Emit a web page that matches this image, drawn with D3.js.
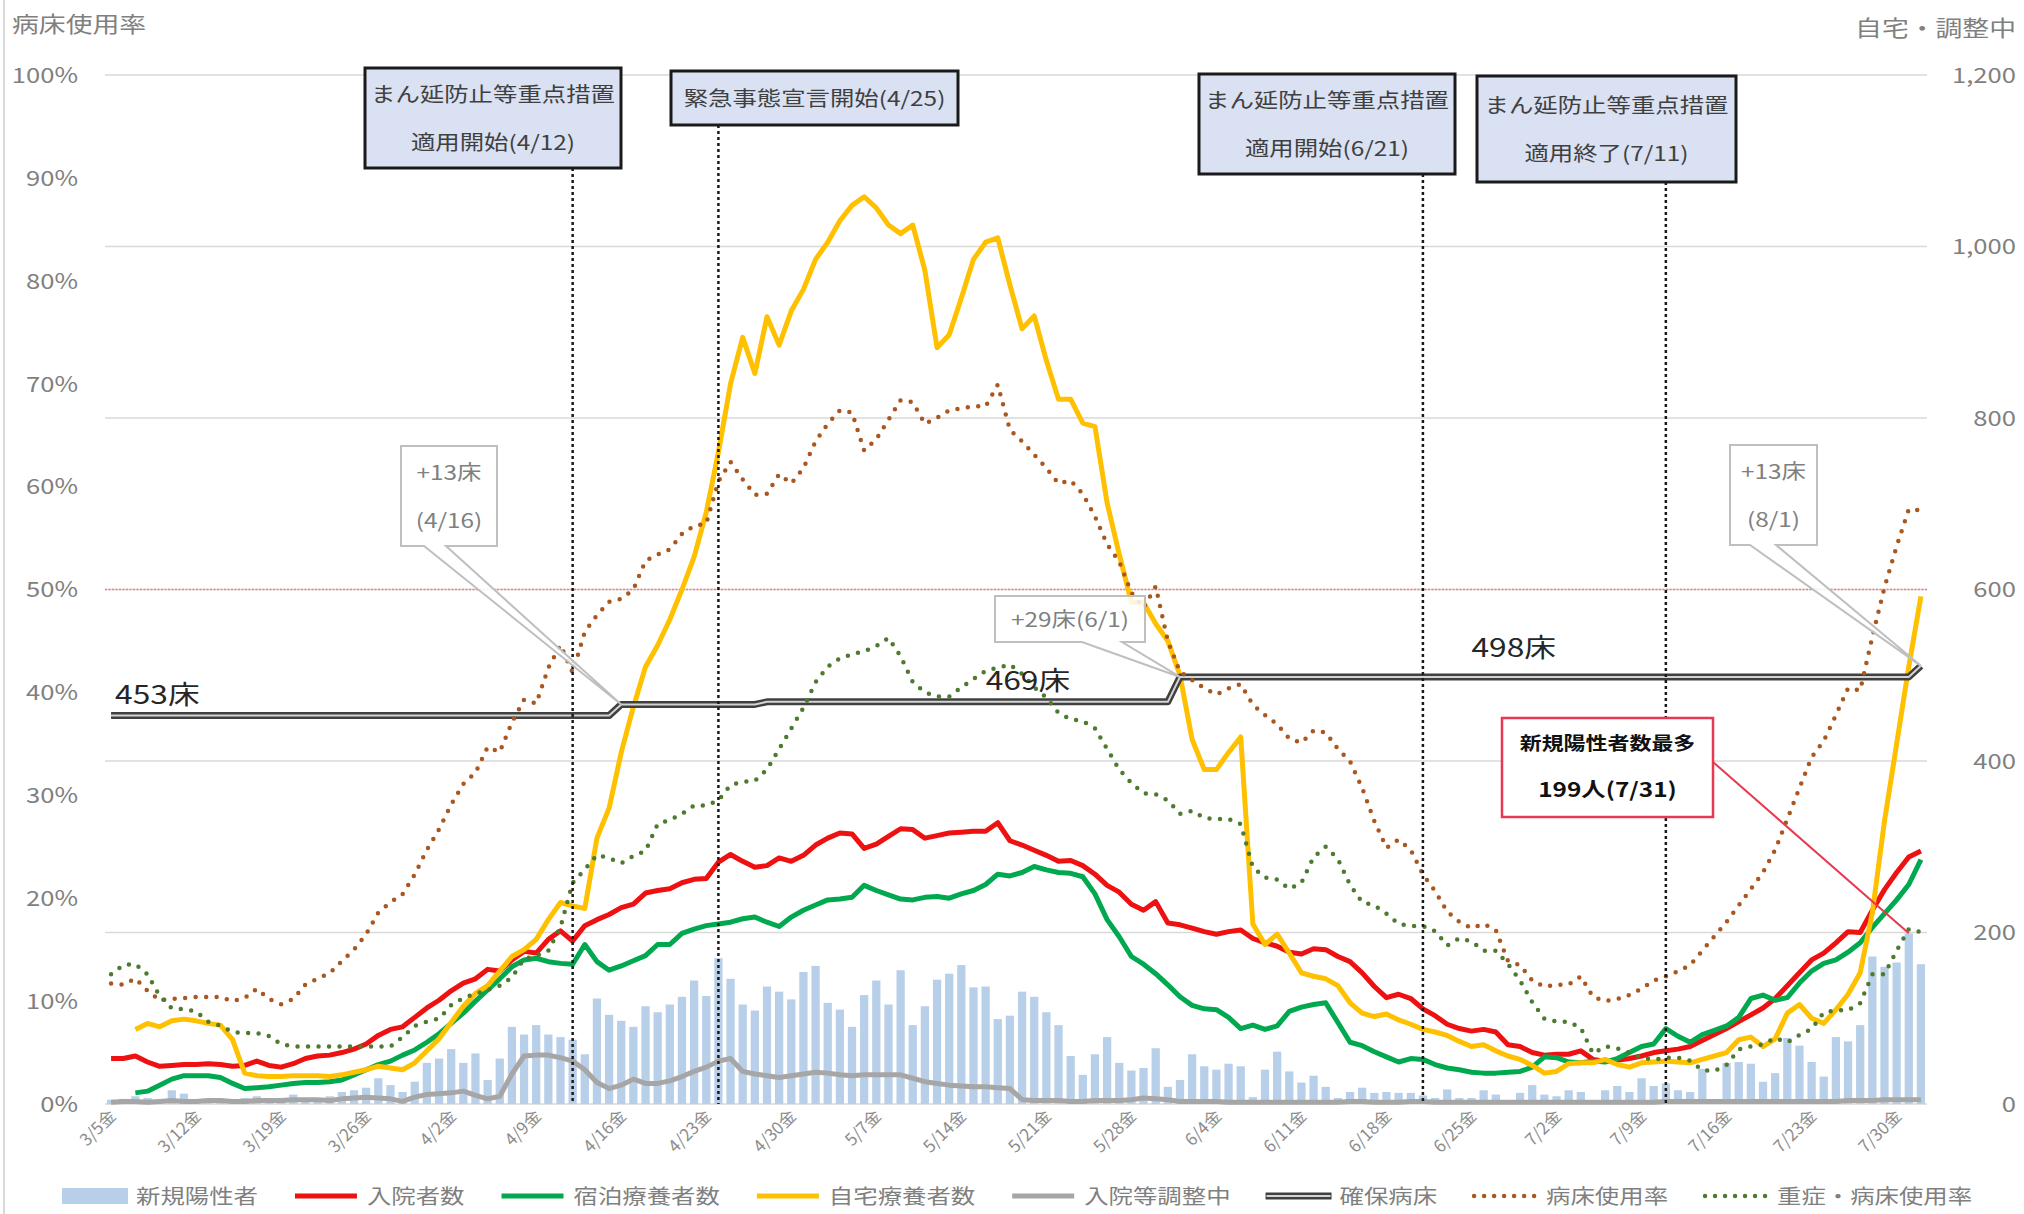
<!DOCTYPE html>
<html>
<head>
<meta charset="utf-8">
<script src="https://cdn.jsdelivr.net/npm/d3@7"></script>
<style>
  body { margin: 0; background: #fff; }
  text { font-family: "Noto Sans CJK JP", "Noto Sans", sans-serif; }
</style>
</head>
<body>
<svg id="chart" width="2024" height="1214"></svg>
<script>
// days 3/5 .. 8/1 (category axis)
var days = d3.timeDay.range(new Date(2021, 2, 5), new Date(2021, 7, 2))
  .map(function (d) { return (d.getMonth() + 1) + '/' + d.getDate(); });

var tickLabels = ['3/5金', '3/12金', '3/19金', '3/26金', '4/2金', '4/9金', '4/16金', '4/23金', '4/30金',
  '5/7金', '5/14金', '5/21金', '5/28金', '6/4金', '6/11金', '6/18金', '6/25金', '7/2金', '7/9金',
  '7/16金', '7/23金', '7/30金'];

var seriesNames = ['新規陽性者', '入院者数', '宿泊療養者数', '自宅療養者数', '入院等調整中', '確保病床', '病床使用率', '重症・病床使用率'];

// 新規陽性者
var newCases = [
  5, 6, 9, 7, 4, 16, 12, 5, 4, 3,
  5, 7, 9, 7, 5, 11, 7, 7, 9, 14,
  16, 19, 30, 22, 14, 26, 48, 53, 64, 48,
  59, 28, 53, 90, 81, 92, 81, 78, 75, 58,
  123, 104, 97, 90, 114, 107, 116, 125, 144, 126,
  170, 146, 116, 109, 137, 131, 122, 154, 161, 118,
  110, 90, 127, 144, 116, 156, 92, 114, 145, 152,
  162, 136, 137, 99, 103, 131, 125, 107, 92, 56,
  34, 58, 78, 48, 39, 42, 65, 20, 28, 58,
  44, 40, 47, 44, 8, 40, 61, 38, 25, 33,
  20, 7, 14, 19, 13, 14, 13, 13, 10, 7,
  17, 7, 7, 16, 11, 4, 13, 22, 11, 9,
  16, 14, 3, 16, 21, 14, 30, 21, 24, 16,
  14, 41, 2, 48, 49, 47, 26, 36, 77, 68,
  49, 32, 78, 73, 92, 172, 160, 165, 199, 163
];

// 入院者数
var hospitalized = [
  53, 53, 56, 49, 44, 45, 46, 46, 47, 46,
  44, 45, 50, 45, 43, 47, 53, 56, 57, 60,
  64, 70, 80, 87, 90, 101, 112, 121, 132, 141,
  146, 157, 155, 168, 178, 176, 192, 202, 190, 208,
  215, 221, 229, 233, 246, 249, 251, 258, 262, 263,
  282, 291, 283, 276, 278, 287, 283, 290, 302, 310,
  316, 315, 298, 303, 312, 321, 320, 310, 313, 316,
  317, 318, 318, 328, 307, 302, 296, 290, 283, 284,
  278, 268, 255, 247, 233, 226, 236, 211, 209, 205,
  201, 198, 201, 203, 193, 188, 184, 177, 175, 181,
  180, 172, 166, 153, 137, 124, 128, 123, 111, 103,
  93, 88, 85, 87, 84, 69, 67, 60, 57, 58,
  58, 62, 52, 50, 51, 53, 56, 60, 62, 64,
  67, 74, 81, 88, 96, 104, 112, 123, 138, 153,
  168, 176, 188, 201, 200, 226, 250, 270, 288, 295
];

// 宿泊療養者数
var hotel = [
  null, null, 13, 15, 22, 29, 33, 33, 33, 31,
  24, 18, 19, 20, 22, 24, 25, 25, 26, 28,
  34, 40, 46, 50, 57, 63, 72, 82, 94, 106,
  120, 133, 146, 160, 168, 170, 166, 164, 163, 186,
  166, 156, 161, 167, 173, 186, 186, 199, 204, 208,
  210, 212, 216, 218, 212, 207, 218, 226, 232, 238,
  239, 241, 255, 249, 244, 239, 238, 241, 242, 240,
  245, 249, 256, 268, 266, 270, 277, 273, 270, 269,
  265, 245, 215, 195, 172, 163, 152, 139, 125, 115,
  111, 110, 101, 88, 92, 87, 91, 108, 113, 116,
  118, 95, 72, 68, 61, 55, 49, 53, 52, 46,
  42, 40, 37, 36, 36, 37, 38, 43, 55, 54,
  49, 48, 50, 49, 53, 60, 67, 70, 88, 79,
  72, 81, 86, 91, 101, 123, 127, 121, 124, 141,
  155, 164, 168, 177, 188, 206, 222, 238, 256, 285
];

// 自宅療養者数
var home = [
  null, null, 87, 94, 90, 97, 99, 97, 94, 92,
  75, 36, 33, 32, 32, 33, 33, 33, 32, 34,
  37, 40, 44, 42, 40, 48, 62, 76, 95, 114,
  129, 138, 155, 172, 180, 192, 215, 235, 231, 228,
  310, 345, 410, 463, 510, 535, 565, 600, 638, 690,
  760, 840, 894, 852, 918, 885, 925, 950, 985, 1005,
  1030, 1048, 1058, 1045, 1025, 1015, 1025, 972, 882, 897,
  940, 985, 1005, 1010, 955, 904, 919, 867, 822, 822,
  794, 790, 701, 641, 585, 585, 560, 540, 500, 425,
  390, 390, 410, 428, 210, 186, 198, 176, 153, 149,
  146, 138, 118, 106, 102, 105, 98, 93, 87, 84,
  80, 73, 67, 69, 62, 56, 52, 45, 36, 38,
  47, 48, 48, 52, 46, 43, 48, 49, 50, 49,
  48, 52, 56, 60, 75, 78, 67, 76, 106, 116,
  100, 94, 110, 128, 153, 223, 330, 420, 510, 592
];

// 入院等調整中
var adjusting = [
  2, 3, 3, 2, 3, 4, 3, 3, 4, 4,
  3, 3, 4, 4, 4, 5, 5, 5, 4, 6,
  7, 8, 7, 6, 3, 8, 11, 12, 13, 15,
  10, 6, 9, 35, 56, 57, 57, 54, 50, 40,
  25, 18, 22, 29, 24, 24, 27, 32, 38, 43,
  50, 53, 38, 35, 33, 31, 33, 35, 37, 36,
  34, 33, 34, 34, 34, 34, 30, 26, 24, 22,
  21, 20, 20, 19, 18, 5, 4, 4, 4, 3,
  3, 4, 4, 4, 5, 7, 6, 5, 3, 3,
  3, 3, 2, 2, 2, 2, 2, 2, 2, 2,
  2, 2, 3, 3, 2, 2, 2, 3, 3, 2,
  2, 2, 2, 2, 2, 2, 2, 2, 2, 2,
  2, 2, 2, 2, 2, 2, 2, 2, 3, 3,
  3, 3, 3, 3, 3, 3, 3, 3, 3, 3,
  3, 3, 3, 4, 4, 4, 5, 5, 5, 5
];

// 確保病床 (changes)
var bedSteps = [['3/5', 453], ['4/16', 466], ['4/28', 469], ['6/1', 498], ['8/1', 511]];

// 病床使用率 (%)
var bedRate = [
  11.7, 11.6, 12.2, 11.0, 10.1, 10.2, 10.3, 10.4, 10.4, 10.4,
  10.0, 10.3, 11.2, 10.2, 9.7, 10.2, 11.6, 12.2, 12.7, 13.9,
  15.0, 16.5, 18.6, 19.6, 20.4, 22.3, 24.7, 26.7, 29.1, 31.1,
  32.2, 34.7, 34.2, 37.1, 39.3, 38.9, 42.4, 44.6, 41.9, 45.9,
  47.5, 48.8, 49.1, 50.0, 52.8, 53.4, 53.9, 55.4, 56.2, 56.4,
  60.5, 62.4, 60.7, 59.2, 59.3, 61.2, 60.3, 61.8, 64.4, 66.1,
  67.4, 67.2, 63.5, 64.6, 66.5, 68.4, 68.2, 66.1, 66.7, 67.4,
  67.6, 67.8, 67.8, 69.9, 65.5, 64.4, 63.1, 61.8, 60.3, 60.6,
  59.3, 57.1, 54.4, 52.7, 49.7, 48.2, 50.3, 45.0, 42.0, 41.2,
  40.4, 39.8, 40.4, 40.8, 38.8, 37.8, 36.9, 35.5, 35.1, 36.3,
  36.1, 34.5, 33.3, 30.7, 27.5, 24.9, 25.7, 24.7, 22.3, 20.7,
  18.7, 17.7, 17.1, 17.5, 16.9, 13.9, 13.5, 12.0, 11.4, 11.6,
  11.6, 12.4, 10.4, 10.0, 10.2, 10.6, 11.2, 12.0, 12.4, 12.9,
  13.5, 14.9, 16.3, 17.7, 19.3, 20.9, 22.5, 24.7, 27.7, 30.7,
  33.7, 35.3, 37.8, 40.4, 40.2, 45.4, 50.2, 54.2, 57.8, 57.7
];

// 重症・病床使用率 (%)
var severeRate = [
  12.6, 13.5, 13.6, 12.6, 10.5, 9.3, 9.2, 9.0, 8.0, 7.6,
  7.0, 6.9, 6.9, 6.6, 5.8, 5.6, 5.6, 5.6, 5.6, 5.6,
  5.6, 5.6, 5.6, 5.6, 6.5, 7.6, 8.0, 8.3, 9.6, 10.3,
  10.7, 11.1, 11.5, 12.3, 14.1, 14.4, 14.9, 17.2, 21.5, 22.8,
  24.2, 23.9, 23.4, 24.1, 24.6, 27.2, 27.6, 28.2, 29.0, 29.0,
  29.5, 31.0, 31.3, 31.4, 32.5, 34.5, 36.5, 38.5, 41.0, 42.5,
  43.3, 43.7, 44.0, 44.5, 45.3, 43.5, 41.0, 40.0, 39.6, 39.6,
  40.5, 41.3, 42.1, 42.4, 42.7, 41.8, 40.5, 39.5, 38.0, 37.4,
  37.2, 36.5, 34.5, 32.5, 31.2, 30.2, 30.1, 29.5, 28.2, 28.5,
  27.8, 27.7, 27.7, 27.2, 23.0, 22.0, 21.8, 20.9, 21.5, 24.0,
  25.0, 23.8, 21.3, 19.6, 19.3, 18.5, 17.5, 17.3, 17.3, 16.8,
  15.4, 16.1, 15.8, 14.9, 14.9, 13.6, 12.0, 9.9, 8.3, 8.0,
  8.0, 7.4, 4.9, 5.6, 5.4, 5.0, 4.5, 4.3, 4.5, 4.5,
  4.2, 3.3, 3.2, 3.8, 5.3, 5.6, 5.8, 6.4, 6.0, 6.7,
  7.3, 8.9, 9.1, 9.1, 9.8, 12.6, 12.6, 14.9, 17.0, 16.7
];

var events = [
  { lines: ['まん延防止等重点措置', '適用開始(4/12)'], at: '4/12', box: [365, 68, 256, 100] },
  { lines: ['緊急事態宣言開始(4/25)'], at: '4/24', box: [671, 71, 287, 54] },
  { lines: ['まん延防止等重点措置', '適用開始(6/21)'], at: '6/21', box: [1199, 74, 256, 100] },
  { lines: ['まん延防止等重点措置', '適用終了(7/11)'], at: '7/11', box: [1477, 76, 259, 106] }
];

var bedNotes = [
  { lines: ['+13床', '(4/16)'], at: '4/16', box: [401, 446, 96, 100], wedge: [424, 446] },
  { lines: ['+29床(6/1)'], at: '6/1', box: [995, 596, 150, 46], wedge: [1082, 1122] },
  { lines: ['+13床', '(8/1)'], at: '8/1', box: [1730, 445, 87, 100], wedge: [1750, 1776] }
];

var bedLabels = [['453床', '3/5'], ['469床', '5/16'], ['498床', '6/25']];

function drawChart() {
  var SX = 1.22;  // text in the picture is drawn wide
  var svg = d3.select('#chart');
  var plotL = 105, plotR = 1927, plotT = 75, plotB = 1104;

  var x = d3.scaleBand().domain(days).range([plotL, plotR]).paddingInner(0.32).paddingOuter(0.16);
  var cx = function (d) { return x(d) + x.bandwidth() / 2; };
  var yR = d3.scaleLinear().domain([0, 1200]).range([plotB, plotT]);
  var yL = d3.scaleLinear().domain([0, 100]).range([plotB, plotT]);

  // expand bed steps to one value a day
  var beds = [];
  var si = 0;
  days.forEach(function (d, i) {
    if (si + 1 < bedSteps.length && days.indexOf(bedSteps[si + 1][0]) === i) si++;
    beds.push(bedSteps[si][1]);
  });

  function wideText(g, str, tx, ty, size, fill, anchor, weight) {
    return g.append('text')
      .attr('transform', 'translate(' + tx + ',' + ty + ') scale(' + SX + ',1)')
      .attr('text-anchor', anchor || 'start')
      .attr('font-size', size)
      .attr('font-weight', weight || 400)
      .attr('fill', fill)
      .text(str);
  }

  // frame edge
  svg.append('line').attr('x1', 4).attr('x2', 4).attr('y1', 0).attr('y2', 1214)
    .attr('stroke', '#d9d9d9').attr('stroke-width', 2);

  // gridlines
  svg.append('g').selectAll('line')
    .data(d3.range(200, 1201, 200))
    .enter().append('line')
    .attr('x1', plotL).attr('x2', plotR)
    .attr('y1', function (d) { return yR(d); }).attr('y2', function (d) { return yR(d); })
    .attr('stroke', '#d9d9d9').attr('stroke-width', 1.5);

  svg.append('line').attr('x1', plotL).attr('x2', plotR).attr('y1', plotB).attr('y2', plotB)
    .attr('stroke', '#d9d9d9').attr('stroke-width', 1.5);

  // left axis
  var gl = svg.append('g').attr('transform', 'translate(78,0)')
    .call(d3.axisLeft(yL).tickValues(d3.range(0, 101, 10)).tickSize(0).tickFormat(function (d) { return d + '%'; }));
  gl.select('.domain').remove();
  gl.selectAll('text').attr('x', null).attr('dy', '0.35em')
    .attr('transform', 'scale(' + SX + ',1)')
    .attr('font-size', 21).attr('fill', '#808080').attr('font-family', null);

  // right axis
  var gr = svg.append('g').attr('transform', 'translate(2016,0)')
    .call(d3.axisLeft(yR).tickValues(d3.range(0, 1201, 200)).tickSize(0).tickFormat(d3.format(',')));
  gr.select('.domain').remove();
  gr.selectAll('text').attr('x', null).attr('dy', '0.35em')
    .attr('transform', 'scale(' + SX + ',1)')
    .attr('font-size', 21).attr('fill', '#808080').attr('font-family', null);

  wideText(svg, '病床使用率', 12, 32, 22, '#808080');
  wideText(svg, '自宅・調整中', 2016, 36, 22, '#808080', 'end');

  // x tick labels
  tickLabels.forEach(function (t) {
    var key = t.replace('金', '');
    svg.append('text')
      .attr('transform', 'translate(' + (cx(key) + 6) + ',1117) rotate(-45)')
      .attr('text-anchor', 'end')
      .attr('font-size', 17)
      .attr('fill', '#8c8c8c')
      .text(t);
  });

  // bars
  svg.append('g').selectAll('rect')
    .data(newCases)
    .enter().append('rect')
    .attr('x', function (d, i) { return x(days[i]); })
    .attr('width', x.bandwidth())
    .attr('y', function (d) { return yR(d); })
    .attr('height', function (d) { return plotB - yR(d); })
    .attr('fill', '#b8cfe9');

  // 50% line
  svg.append('line').attr('x1', plotL).attr('x2', plotR).attr('y1', yL(50)).attr('y2', yL(50))
    .attr('stroke', '#f08080').attr('stroke-width', 1.6).attr('stroke-dasharray', '2 1.5');

  var countLine = d3.line()
    .defined(function (d) { return d !== null; })
    .x(function (d, i) { return cx(days[i]); })
    .y(function (d) { return yR(d); });

  var rateLine = d3.line()
    .x(function (d, i) { return cx(days[i]); })
    .y(function (d) { return yL(d); });

  function drawLine(data, gen, color, width, dash) {
    var p = svg.append('path').datum(data)
      .attr('fill', 'none')
      .attr('stroke', color)
      .attr('stroke-width', width)
      .attr('stroke-linejoin', 'round')
      .attr('d', gen);
    if (dash) p.attr('stroke-dasharray', dash).attr('stroke-linecap', 'round');
    return p;
  }

  drawLine(hospitalized, countLine, '#ee1111', 5);
  drawLine(hotel, countLine, '#00a84f', 5);
  drawLine(home, countLine, '#ffc000', 5);
  drawLine(adjusting, countLine, '#a6a6a6', 5);
  drawLine(beds, countLine, '#404040', 7);
  drawLine(beds, countLine, '#d4d4d4', 2);
  drawLine(bedRate, rateLine, '#a9571f', 4.5, '0 10.5');
  drawLine(severeRate, rateLine, '#4e7a30', 4.5, '0 10.5');

  // bed labels
  bedLabels.forEach(function (b, i) {
    var bi = days.indexOf(b[1]);
    wideText(svg, b[0], cx(b[1]) + (i === 0 ? 4 : 0), yR(beds[bi]) - (i === 2 ? 20 : 12), 26, '#262626');
  });

  // event boxes and lines
  events.forEach(function (e) {
    var b = e.box;
    svg.append('line')
      .attr('x1', cx(e.at)).attr('x2', cx(e.at))
      .attr('y1', b[1] + b[3]).attr('y2', plotB)
      .attr('stroke', '#1a1a1a').attr('stroke-width', 2.5).attr('stroke-dasharray', '3 3');
    svg.append('rect').attr('x', b[0]).attr('y', b[1]).attr('width', b[2]).attr('height', b[3])
      .attr('fill', '#dae1f2').attr('stroke', '#1a1a1a').attr('stroke-width', 3);
    var gap = 48;
    var y0 = b[1] + b[3] / 2 - (e.lines.length - 1) * gap / 2 + 8;
    e.lines.forEach(function (t, k) {
      wideText(svg, t, b[0] + b[2] / 2, y0 + k * gap, 20, '#404040', 'middle');
    });
  });

  // bed increase callouts
  bedNotes.forEach(function (n) {
    var b = n.box;
    var i = days.indexOf(n.at);
    var tx = cx(n.at), ty = yR(beds[i]);
    var pts = [[b[0], b[1]], [b[0] + b[2], b[1]], [b[0] + b[2], b[1] + b[3]], [n.wedge[1], b[1] + b[3]],
      [tx, ty], [n.wedge[0], b[1] + b[3]], [b[0], b[1] + b[3]]];
    svg.append('path')
      .attr('d', 'M' + pts.join('L') + 'Z')
      .attr('fill', '#fff').attr('fill-opacity', 0.85)
      .attr('stroke', '#bfbfbf').attr('stroke-width', 2);
    var gap = 48;
    var y0 = b[1] + b[3] / 2 - (n.lines.length - 1) * gap / 2 + 8;
    n.lines.forEach(function (t, k) {
      wideText(svg, t, b[0] + b[2] / 2, y0 + k * gap, 20, '#808080', 'middle');
    });
  });

  // max new cases note
  var maxIdx = newCases.indexOf(d3.max(newCases));
  var rb = [1502, 718, 211, 99];
  svg.append('line')
    .attr('x1', rb[0] + rb[2]).attr('y1', rb[1] + 44)
    .attr('x2', cx(days[maxIdx])).attr('y2', yR(newCases[maxIdx]))
    .attr('stroke', '#e8384f').attr('stroke-width', 2);
  svg.append('rect').attr('x', rb[0]).attr('y', rb[1]).attr('width', rb[2]).attr('height', rb[3])
    .attr('fill', '#fff').attr('stroke', '#e8384f').attr('stroke-width', 2.5);
  wideText(svg, '新規陽性者数最多', rb[0] + rb[2] / 2, rb[1] + 32, 18, '#111', 'middle', 700);
  wideText(svg, newCases[maxIdx] + '人(7/31)', rb[0] + rb[2] / 2, rb[1] + 79, 20, '#111', 'middle', 700);

  // legend
  var lg = svg.append('g');
  var lx = 62, ly = 1196;
  var swatches = [
    { type: 'bar', color: '#b8cfe9' },
    { type: 'line', color: '#ee1111' },
    { type: 'line', color: '#00a84f' },
    { type: 'line', color: '#ffc000' },
    { type: 'line', color: '#a6a6a6' },
    { type: 'double' },
    { type: 'dot', color: '#a9571f' },
    { type: 'dot', color: '#4e7a30' }
  ];
  seriesNames.forEach(function (name, i) {
    var s = swatches[i];
    if (s.type === 'bar') {
      lg.append('rect').attr('x', lx).attr('y', ly - 8).attr('width', 66).attr('height', 16).attr('fill', s.color);
    } else if (s.type === 'double') {
      lg.append('line').attr('x1', lx).attr('x2', lx + 66).attr('y1', ly).attr('y2', ly)
        .attr('stroke', '#404040').attr('stroke-width', 7);
      lg.append('line').attr('x1', lx + 1).attr('x2', lx + 65).attr('y1', ly).attr('y2', ly)
        .attr('stroke', '#d4d4d4').attr('stroke-width', 2);
    } else {
      var l = lg.append('line').attr('x1', lx + 2).attr('x2', lx + 64).attr('y1', ly).attr('y2', ly)
        .attr('stroke', s.color).attr('stroke-width', s.type === 'dot' ? 4.5 : 5);
      if (s.type === 'dot') l.attr('stroke-dasharray', '0 10').attr('stroke-linecap', 'round');
    }
    var t = wideText(lg, name, lx + 74, ly + 8, 20, '#808080');
    lx += 74 + t.node().getComputedTextLength() * SX + 35;
  });
}

drawChart();
</script>
</body>
</html>
